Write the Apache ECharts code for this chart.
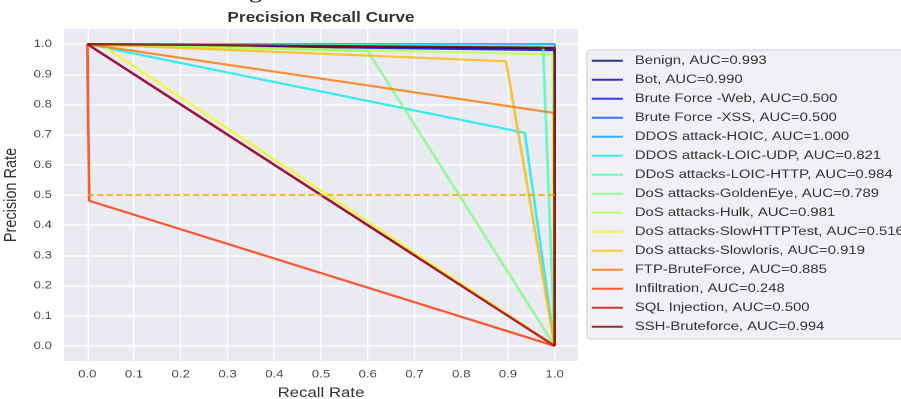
<!DOCTYPE html>
<html>
<head>
<meta charset="utf-8">
<script src="https://cdn.jsdelivr.net/npm/echarts@6/dist/echarts.min.js"></script>
<style>
  html, body { margin: 0; padding: 0; background: #ffffff; overflow: hidden; }
  #wrap { width: 901px; height: 399px; overflow: hidden; position: relative; }
  #chart { width: 751px; height: 399px; transform: scaleX(1.19973); transform-origin: 0 0; }
</style>
</head>
<body>
<div id="wrap"><div id="chart"></div></div>
<script>
// ---- data ----
const classNames = [
  'Benign', 'Bot', 'Brute Force -Web', 'Brute Force -XSS', 'DDOS attack-HOIC',
  'DDOS attack-LOIC-UDP', 'DDoS attacks-LOIC-HTTP', 'DoS attacks-GoldenEye',
  'DoS attacks-Hulk', 'DoS attacks-SlowHTTPTest', 'DoS attacks-Slowloris',
  'FTP-BruteForce', 'Infiltration', 'SQL Injection', 'SSH-Bruteforce'
];
const aucLabels = ['0.993', '0.990', '0.500', '0.500', '1.000', '0.821', '0.984',
  '0.789', '0.981', '0.516', '0.919', '0.885', '0.248', '0.500', '0.994'];
const recallData = [
  [0, 1, 1],
  [0, 1, 1],
  [0, 1],
  [0, 1],
  [0, 1, 1],
  [0, 0.936, 1],
  [0, 0.975, 1],
  [0, 0.600, 1],
  [0, 0.996, 1],
  [0, 0.030, 1],
  [0, 0.896, 1],
  [0, 0.999, 1],
  [0, 0.004, 1],
  [0, 1],
  [0, 1, 1]
];
const precisionData = [
  [1, 0.986, 0],
  [1, 0.980, 0],
  [1, 0],
  [1, 0],
  [1, 1, 0],
  [1, 0.706, 0],
  [1, 0.994, 0],
  [1, 0.977, 0],
  [1, 0.966, 0],
  [1, 0.998, 0],
  [1, 0.943, 0],
  [1, 0.772, 0],
  [1, 0.481, 0],
  [1, 0],
  [1, 0.988, 0]
];
const baselineRecall = [0, 1];
const baselinePrecision = [0.5, 0.5];
const tickValues = [0, 0.1, 0.2, 0.3, 0.4, 0.5, 0.6, 0.7, 0.8, 0.9, 1.0];

// ---- styles ----
const lineColors = [
  'rgba(0,0,128,0.8)', 'rgba(0,0,209,0.8)', 'rgba(0,18,255,0.8)', 'rgba(0,91,255,0.8)',
  'rgba(0,164,255,0.8)', 'rgba(6,237,241,0.8)', 'rgba(65,255,182,0.8)', 'rgba(123,255,123,0.8)',
  'rgba(182,255,65,0.8)', 'rgba(241,252,6,0.8)', 'rgba(255,185,0,0.8)', 'rgba(255,117,0,0.8)',
  'rgba(255,50,0,0.8)', 'rgba(210,0,0,0.8)', 'rgba(128,0,0,0.8)'
];
const FONT = "'Liberation Sans', Arial, Helvetica, sans-serif";

const legendNames = classNames.map((c, i) => c + ', AUC=' + aucLabels[i]);

const series = classNames.map((c, i) => ({
  name: legendNames[i],
  type: 'line',
  data: recallData[i].map((r, k) => [r, precisionData[i][k]]),
  symbol: 'none',
  showSymbol: false,
  color: lineColors[i],
  itemStyle: { color: lineColors[i] },
  lineStyle: { width: 2.2, color: lineColors[i] },
  z: 2 + i
}));
series.push({
  name: 'baseline',
  type: 'line',
  data: baselineRecall.map((r, k) => [r, baselinePrecision[k]]),
  symbol: 'none',
  showSymbol: false,
  color: 'rgba(255,165,0,0.8)',
  lineStyle: { width: 2, type: [5.5, 2.5], color: 'rgba(255,165,0,0.8)' },
  z: 20
});

const chart = echarts.init(document.getElementById('chart'), null, { renderer: 'canvas', devicePixelRatio: 2 });
chart.setOption({
  animation: false,
  backgroundColor: '#ffffff',
  textStyle: { fontFamily: FONT },
  title: {
    text: 'Precision Recall Curve',
    left: 267.5,
    top: 11,
    padding: 0,
    textAlign: 'center',
    textStyle: { fontFamily: FONT, fontSize: 14.4, fontWeight: 'bold', color: '#333333' }
  },
  graphic: [{
    type: 'text',
    x: 213,
    y: 3.3,
    silent: true,
    style: { text: 'g', font: "22px 'Liberation Serif', serif", fill: '#222222', align: 'center', verticalAlign: 'bottom' }
  }],
  grid: {
    left: 53.3, right: 269.2, top: 29, bottom: 38,
    outerBoundsMode: 'none',
    containLabel: false,
    show: true, backgroundColor: '#EAEAF2', borderWidth: 0
  },
  legend: {
    data: legendNames,
    orient: 'vertical',
    left: 489.2,
    top: 50,
    padding: [4.7, 4, 6.3, 4.1],
    icon: 'rect',
    itemWidth: 25.8,
    itemHeight: 2,
    itemGap: 7,
    backgroundColor: '#F0F0F5',
    borderColor: '#d2d2d2',
    borderWidth: 1,
    borderRadius: 3,
    selectedMode: false,
    textStyle: { fontFamily: FONT, fontSize: 12.4, color: '#333333', lineHeight: 12, padding: [0, 0, 0, 5] }
  },
  xAxis: {
    type: 'value',
    min: -0.05,
    max: 1.05,
    name: 'Recall Rate',
    nameLocation: 'middle',
    nameGap: 25,
    nameTextStyle: { fontFamily: FONT, fontSize: 14, color: '#333333' },
    axisLine: { show: false, onZero: false },
    axisTick: { show: false, customValues: tickValues },
    axisLabel: {
      customValues: tickValues,
      margin: 8,
      fontFamily: FONT, fontSize: 11, color: '#4a4a4a',
      formatter: v => Number(v).toFixed(1)
    },
    splitLine: { show: true, lineStyle: { color: '#ffffff', width: 1.2 } }
  },
  yAxis: {
    type: 'value',
    min: -0.05,
    max: 1.05,
    name: 'Precision Rate',
    nameLocation: 'middle',
    nameGap: 33,
    nameTextStyle: { fontFamily: FONT, fontSize: 14.5, color: '#333333' },
    axisLine: { show: false, onZero: false },
    axisTick: { show: false, customValues: tickValues },
    axisLabel: {
      customValues: tickValues,
      margin: 10,
      fontFamily: FONT, fontSize: 11, color: '#4a4a4a',
      formatter: v => Number(v).toFixed(1)
    },
    splitLine: { show: true, lineStyle: { color: '#ffffff', width: 1.5 } }
  },
  series: series
});
</script>
</body>
</html>
